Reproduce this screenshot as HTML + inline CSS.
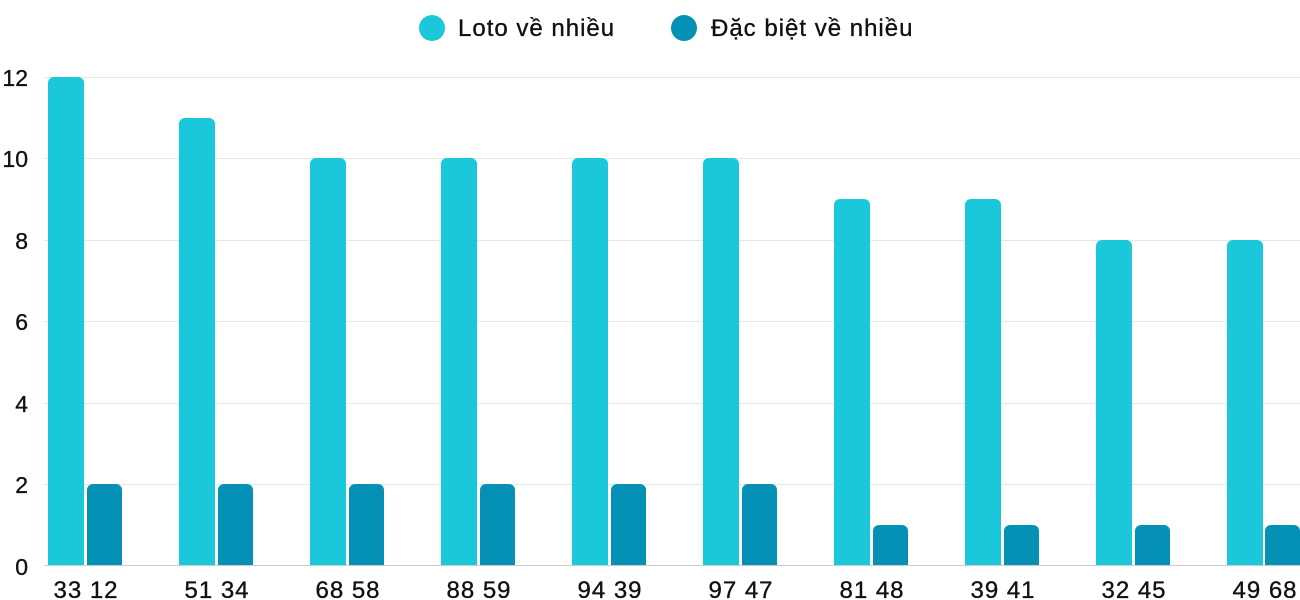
<!DOCTYPE html>
<html><head><meta charset="utf-8"><style>
html,body{margin:0;padding:0;background:#fff;width:1300px;height:600px;overflow:hidden}
text{font-family:"Liberation Sans",sans-serif;fill:#111;stroke:#111;stroke-width:0.35}
</style></head><body>
<svg width="1300" height="600" xmlns="http://www.w3.org/2000/svg">
<g stroke="#e6e6e6" stroke-width="1">
<line x1="44" x2="1300" y1="77.5" y2="77.5"/>
<line x1="44" x2="1300" y1="158.5" y2="158.5"/>
<line x1="44" x2="1300" y1="240.5" y2="240.5"/>
<line x1="44" x2="1300" y1="321.5" y2="321.5"/>
<line x1="44" x2="1300" y1="403.5" y2="403.5"/>
<line x1="44" x2="1300" y1="484.5" y2="484.5"/>
</g>
<line x1="44" x2="1300" y1="565.5" y2="565.5" stroke="#ccc"/>
<g font-size="23" text-anchor="end">
<text x="28" y="86">12</text><text x="28" y="167">10</text><text x="28" y="249">8</text>
<text x="28" y="330">6</text><text x="28" y="412">4</text><text x="28" y="493">2</text><text x="28" y="575">0</text>
</g>
<circle cx="432" cy="28" r="13" fill="#1bc8db"/>
<text x="458" y="36" font-size="24" letter-spacing="1">Loto về nhiều</text>
<circle cx="684" cy="28" r="13" fill="#0591b5"/>
<text x="711" y="36" font-size="24" letter-spacing="1">Đặc biệt về nhiều</text>
<g font-size="24" text-anchor="middle" letter-spacing="1">
<text x="86" y="598">33 12</text><text x="217" y="598">51 34</text><text x="348" y="598">68 58</text>
<text x="479" y="598">88 59</text><text x="610" y="598">94 39</text><text x="741" y="598">97 47</text>
<text x="872" y="598">81 48</text><text x="1003" y="598">39 41</text><text x="1134" y="598">32 45</text>
<text x="1265" y="598">49 68</text>
</g>
<g>
<path d="M48,565V83a6,6 0 0 1 6,-6h24a6,6 0 0 1 6,6V565Z" fill="#1bc8db"/>
<path d="M87,565V490a6,6 0 0 1 6,-6h23a6,6 0 0 1 6,6V565Z" fill="#0591b5"/>
<path d="M179,565V124a6,6 0 0 1 6,-6h24a6,6 0 0 1 6,6V565Z" fill="#1bc8db"/>
<path d="M218,565V490a6,6 0 0 1 6,-6h23a6,6 0 0 1 6,6V565Z" fill="#0591b5"/>
<path d="M310,565V164a6,6 0 0 1 6,-6h24a6,6 0 0 1 6,6V565Z" fill="#1bc8db"/>
<path d="M349,565V490a6,6 0 0 1 6,-6h23a6,6 0 0 1 6,6V565Z" fill="#0591b5"/>
<path d="M441,565V164a6,6 0 0 1 6,-6h24a6,6 0 0 1 6,6V565Z" fill="#1bc8db"/>
<path d="M480,565V490a6,6 0 0 1 6,-6h23a6,6 0 0 1 6,6V565Z" fill="#0591b5"/>
<path d="M572,565V164a6,6 0 0 1 6,-6h24a6,6 0 0 1 6,6V565Z" fill="#1bc8db"/>
<path d="M611,565V490a6,6 0 0 1 6,-6h23a6,6 0 0 1 6,6V565Z" fill="#0591b5"/>
<path d="M703,565V164a6,6 0 0 1 6,-6h24a6,6 0 0 1 6,6V565Z" fill="#1bc8db"/>
<path d="M742,565V490a6,6 0 0 1 6,-6h23a6,6 0 0 1 6,6V565Z" fill="#0591b5"/>
<path d="M834,565V205a6,6 0 0 1 6,-6h24a6,6 0 0 1 6,6V565Z" fill="#1bc8db"/>
<path d="M873,565V531a6,6 0 0 1 6,-6h23a6,6 0 0 1 6,6V565Z" fill="#0591b5"/>
<path d="M965,565V205a6,6 0 0 1 6,-6h24a6,6 0 0 1 6,6V565Z" fill="#1bc8db"/>
<path d="M1004,565V531a6,6 0 0 1 6,-6h23a6,6 0 0 1 6,6V565Z" fill="#0591b5"/>
<path d="M1096,565V246a6,6 0 0 1 6,-6h24a6,6 0 0 1 6,6V565Z" fill="#1bc8db"/>
<path d="M1135,565V531a6,6 0 0 1 6,-6h23a6,6 0 0 1 6,6V565Z" fill="#0591b5"/>
<path d="M1227,565V246a6,6 0 0 1 6,-6h24a6,6 0 0 1 6,6V565Z" fill="#1bc8db"/>
<path d="M1265,565V531a6,6 0 0 1 6,-6h23a6,6 0 0 1 6,6V565Z" fill="#0591b5"/>
</g>
</svg>
</body></html>
